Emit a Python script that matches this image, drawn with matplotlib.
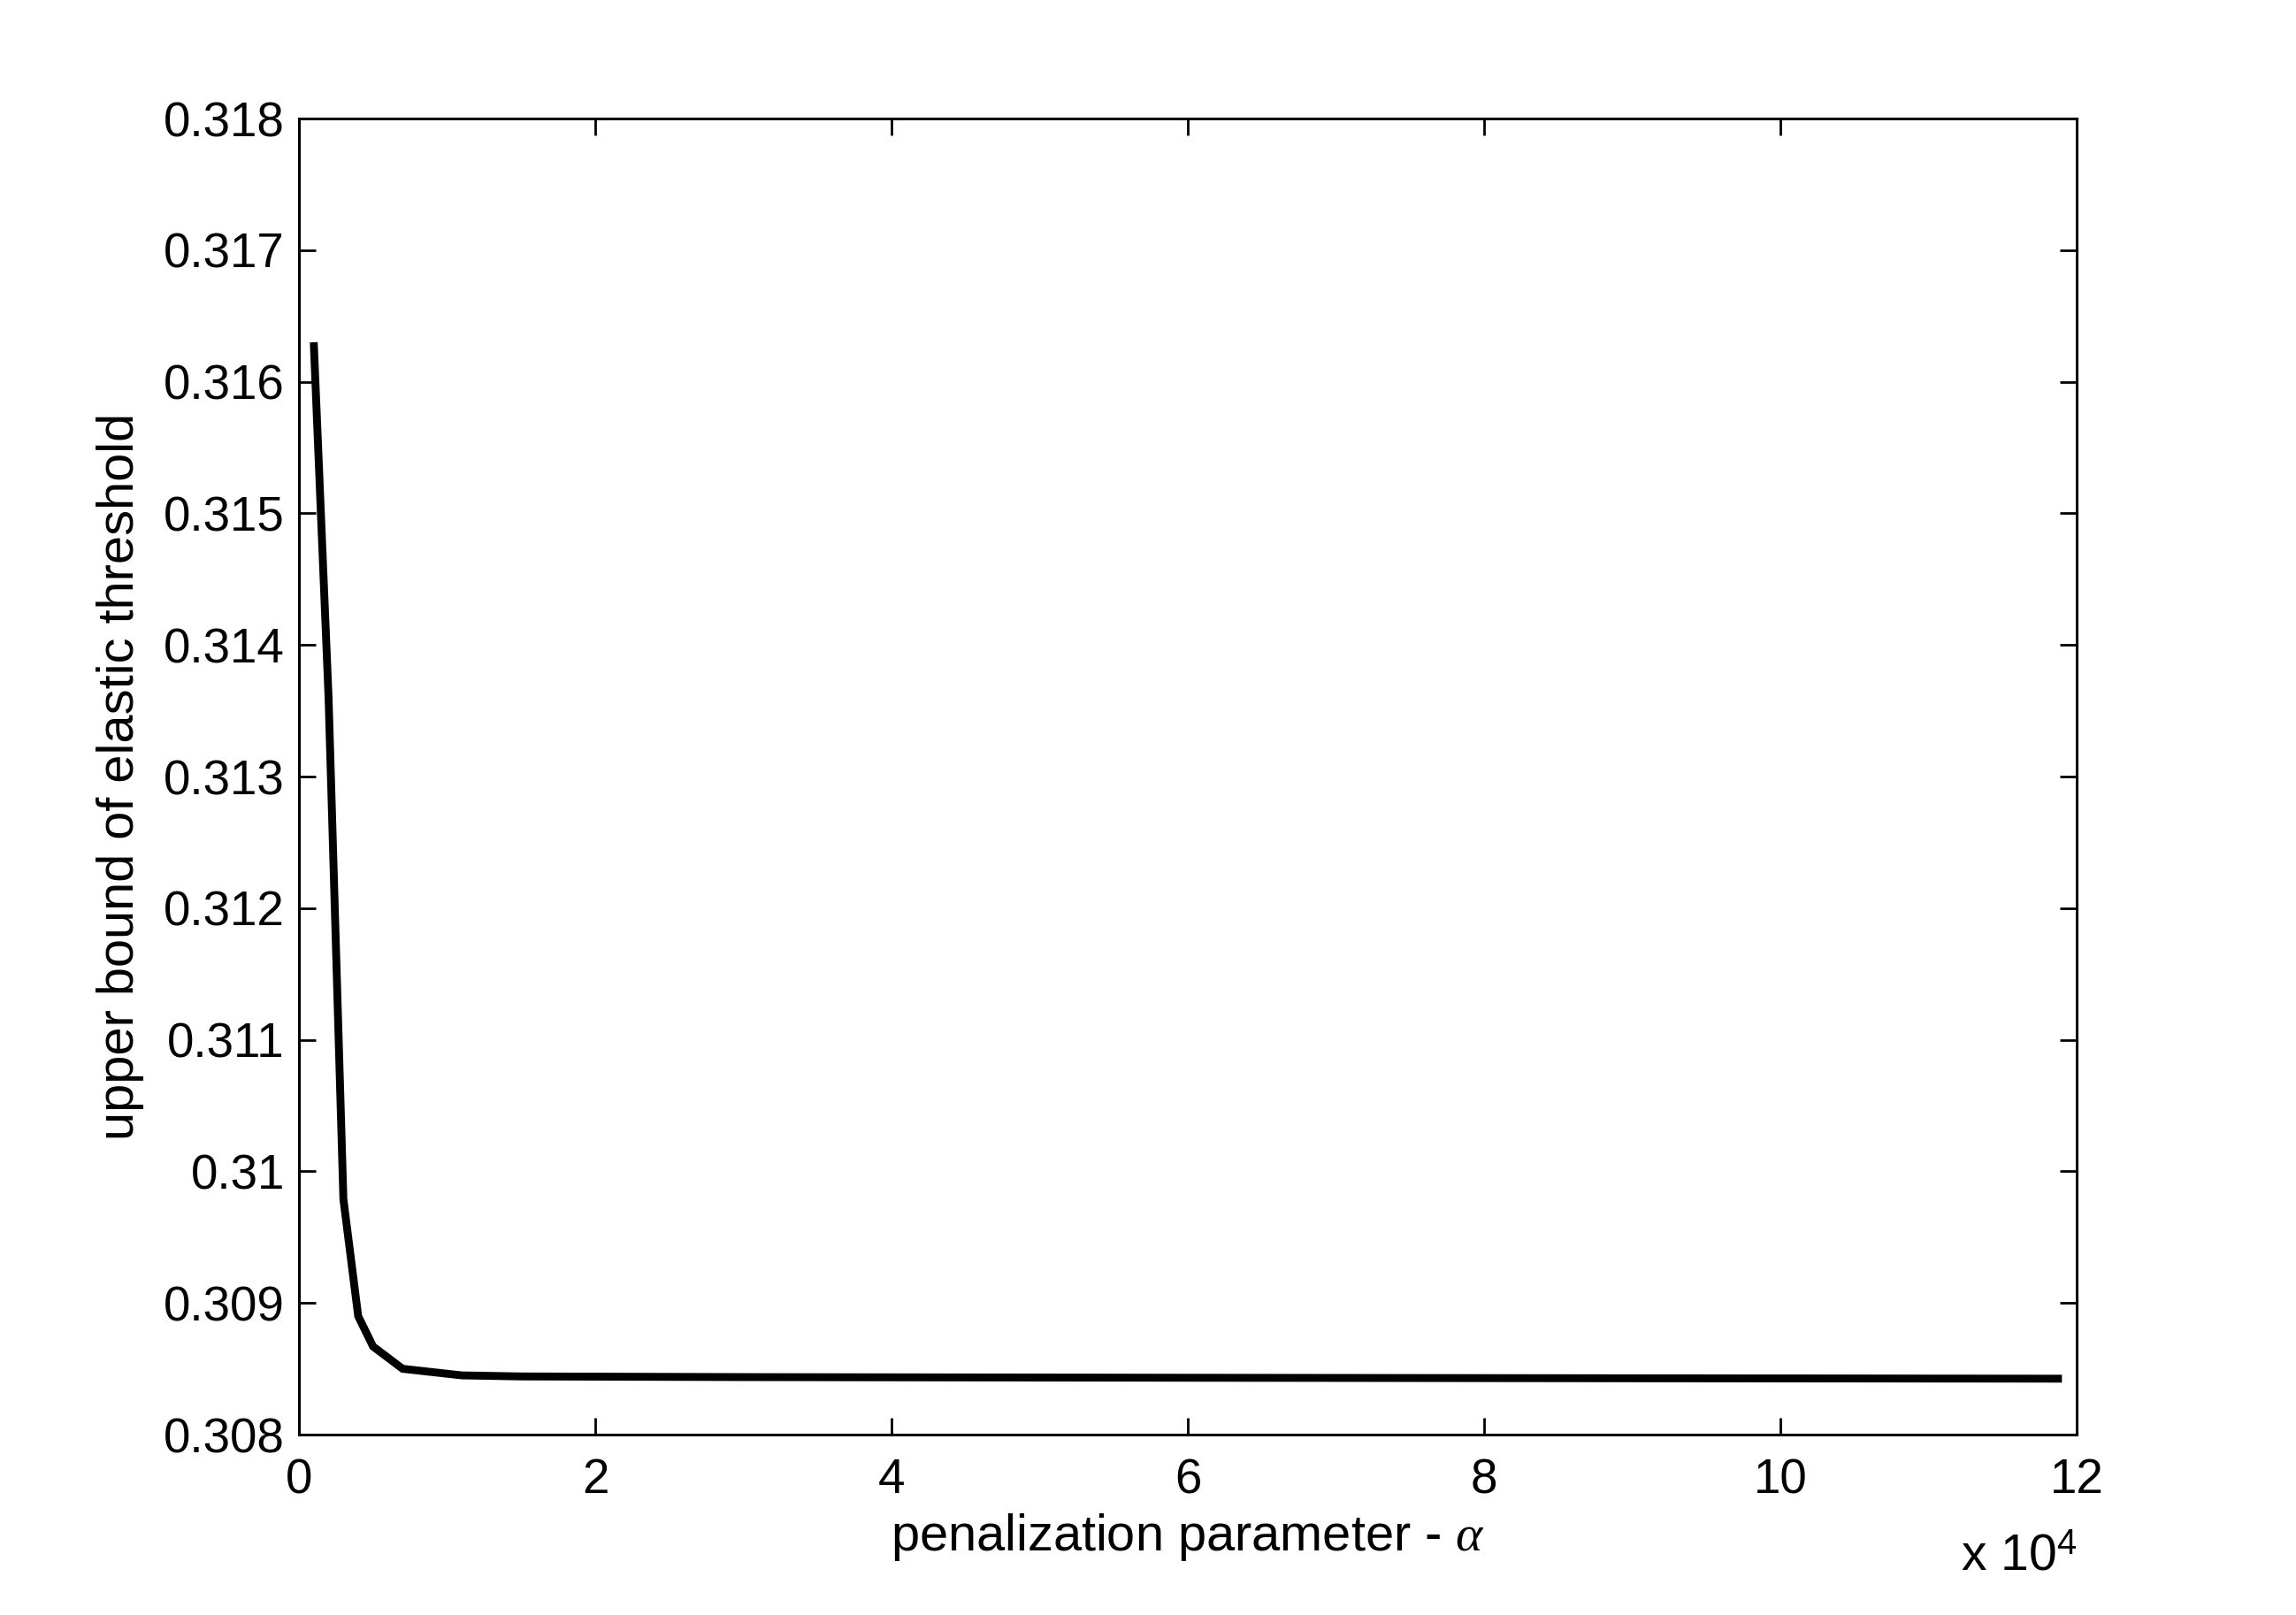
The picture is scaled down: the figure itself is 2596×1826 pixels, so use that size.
import matplotlib
matplotlib.use("Agg")
import matplotlib.pyplot as plt
from matplotlib.ticker import FuncFormatter

plt.rcParams['font.family'] = ['Liberation Sans', 'DejaVu Sans']
plt.rcParams['mathtext.fontset'] = 'custom'
plt.rcParams['mathtext.rm'] = 'Liberation Sans'
plt.rcParams['mathtext.it'] = 'Liberation Serif:italic'

# data
alpha = [1000, 2000, 3000, 4000, 5000, 7000, 11000, 15000, 30000, 60000, 90000, 119000]
upper_bound = [0.31630, 0.31360, 0.30979, 0.30890, 0.30867, 0.30850, 0.30845,
               0.308442, 0.308437, 0.308432, 0.308428, 0.308425]
xticks = [0, 20000, 40000, 60000, 80000, 100000, 120000]
yticks = [0.308, 0.309, 0.310, 0.311, 0.312, 0.313, 0.314, 0.315, 0.316, 0.317, 0.318]
ytick_labels = ['0.308', '0.309', '0.31', '0.311', '0.312', '0.313', '0.314',
                '0.315', '0.316', '0.317', '0.318']

fig = plt.figure(figsize=(12.98, 9.13), dpi=200)
ax = fig.add_axes([0.1302, 0.1117, 0.9045 - 0.1302, 0.9266 - 0.1117])

ax.plot(alpha, upper_bound, color='black', linewidth=3.2, solid_joinstyle='miter',
        solid_capstyle='butt')

ax.set_xlim(0, 120000)
ax.set_ylim(0.308, 0.318)
ax.set_xticks(xticks)
ax.xaxis.set_major_formatter(FuncFormatter(lambda v, p: f"{v/1e4:g}"))
ax.set_yticks(yticks)
ax.set_yticklabels(ytick_labels)

for s in ax.spines.values():
    s.set_linewidth(1.1)
ax.tick_params(direction='in', length=6.8, width=1.0, labelsize=19.7,
               top=True, right=True)
ax.tick_params(axis='y', pad=5.8)
ax.tick_params(axis='x', pad=9.5)

ax.set_xlabel(r'penalization parameter - $\alpha$', fontsize=20.8, va='center')
ax.xaxis.set_label_coords(0.5, -0.078)
ax.set_ylabel('upper bound of elastic threshold', fontsize=20.8, va='center')
ax.yaxis.set_label_coords(-0.1005, 0.5)

ax.text(1.0, -0.1028, r'x 10$^{\mathrm{4}}$', transform=ax.transAxes,
        ha='right', va='baseline', fontsize=20.5)

fig.savefig('out.png', dpi=200)
